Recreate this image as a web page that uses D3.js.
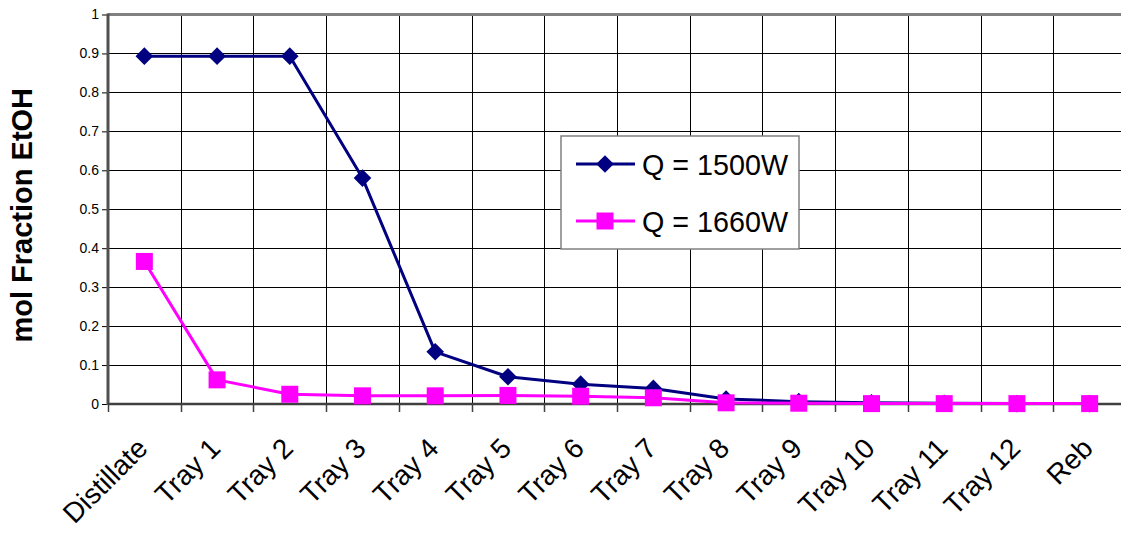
<!DOCTYPE html>
<html>
<head>
<meta charset="utf-8">
<script src="https://cdn.jsdelivr.net/npm/d3@7"></script>
<style>
  html, body { margin: 0; padding: 0; background: #fff; }
  svg { display: block; font-family: Arial, "Liberation Sans", sans-serif; }
</style>
</head>
<body>
<svg id="chart" width="1121" height="540"></svg>
<script>
// Column stages, top to bottom
const categories = ["Distillate", "Tray 1", "Tray 2", "Tray 3", "Tray 4", "Tray 5", "Tray 6",
  "Tray 7", "Tray 8", "Tray 9", "Tray 10", "Tray 11", "Tray 12", "Reb"];

// Ethanol mole fraction on each stage at two reboiler duties
const q1500 = [0.893, 0.893, 0.893, 0.580, 0.134, 0.070, 0.051, 0.040, 0.013, 0.006, 0.003, 0.002, 0.001, 0.001];
const q1660 = [0.366, 0.062, 0.025, 0.021, 0.021, 0.022, 0.020, 0.016, 0.003, 0.002, 0.001, 0.001, 0.001, 0.001];

const seriesNames = ["Q = 1500W", "Q = 1660W"];
const yTicks = [0, 0.1, 0.2, 0.3, 0.4, 0.5, 0.6, 0.7, 0.8, 0.9, 1];
const yTitle = "mol Fraction EtOH";

const svg = d3.select("#chart");
const plot = { left: 108, right: 1126, top: 14.5, bottom: 404 };

const x = d3.scaleBand().domain(categories).range([plot.left, plot.right]).padding(0);
const y = d3.scaleLinear().domain([0, 1]).range([plot.bottom, plot.top]);

// Horizontal grid
svg.append("g").selectAll("line").data(yTicks.filter(d => d > 0 && d < 1)).join("line")
  .attr("x1", plot.left).attr("x2", plot.right)
  .attr("y1", d => Math.round(y(d)) + 0.5).attr("y2", d => Math.round(y(d)) + 0.5)
  .attr("stroke", "#000").attr("stroke-width", 1);

// Vertical grid at stage boundaries
svg.append("g").selectAll("line").data(categories.slice(1)).join("line")
  .attr("x1", d => Math.round(x(d)) + 0.5).attr("x2", d => Math.round(x(d)) + 0.5)
  .attr("y1", plot.top).attr("y2", plot.bottom)
  .attr("stroke", "#000").attr("stroke-width", 1);

// Plot frame (top edge)
svg.append("line")
  .attr("x1", plot.left).attr("x2", plot.right)
  .attr("y1", plot.top).attr("y2", plot.top)
  .attr("stroke", "#808080").attr("stroke-width", 3);

// Y axis
const yAxis = d3.axisLeft(y).tickValues(yTicks).tickSize(6).tickPadding(3)
  .tickFormat(d => d3.format("~g")(d));
const gy = svg.append("g").attr("transform", `translate(${plot.left},0)`).call(yAxis);
gy.select(".domain").remove();
gy.selectAll(".tick line").attr("stroke", "#000");
gy.selectAll(".tick text").attr("font-size", 14).attr("fill", "#000")
  .attr("font-family", "Arial, 'Liberation Sans', sans-serif");
svg.append("line")
  .attr("x1", plot.left).attr("x2", plot.left)
  .attr("y1", plot.top - 1).attr("y2", plot.bottom + 1)
  .attr("stroke", "#505050").attr("stroke-width", 3);

// X axis: ticks at stage boundaries, labels centred on stages
const boundaries = categories.map(c => x(c)).concat([plot.right]);
svg.append("g").selectAll("line").data(boundaries).join("line")
  .attr("x1", d => Math.round(d) + 0.5).attr("x2", d => Math.round(d) + 0.5)
  .attr("y1", plot.bottom).attr("y2", plot.bottom + 8)
  .attr("stroke", "#404040").attr("stroke-width", 1.5);
svg.append("line")
  .attr("x1", plot.left).attr("x2", plot.right)
  .attr("y1", plot.bottom).attr("y2", plot.bottom)
  .attr("stroke", "#404040").attr("stroke-width", 2.5);

svg.append("g").selectAll("text").data(categories).join("text")
  .attr("transform", d => `translate(${x(d) + x.bandwidth() / 2 + 5},${plot.bottom + 46}) rotate(-45)`)
  .attr("text-anchor", "end")
  .attr("font-size", 28)
  .attr("fill", "#000")
  .text(d => d);

// Y axis title
svg.append("text")
  .attr("transform", `translate(32,${(plot.top + plot.bottom) / 2 + 6}) rotate(-90)`)
  .attr("text-anchor", "middle")
  .attr("font-size", 29).attr("font-weight", "bold").attr("fill", "#000")
  .text(yTitle);

// Series
const cx = d => x(d) + x.bandwidth() / 2;
const series = [
  { name: seriesNames[0], values: q1500, color: "#000080", symbol: d3.symbolSquare, size: 155, rotate: 45 },
  { name: seriesNames[1], values: q1660, color: "#FF00FF", symbol: d3.symbolSquare, size: 289, rotate: 0 }
];
const line = d3.line().x(d => cx(d.c)).y(d => y(d.v));

series.forEach(s => {
  const pts = categories.map((c, i) => ({ c, v: s.values[i] }));
  svg.append("path").datum(pts)
    .attr("d", line).attr("fill", "none")
    .attr("stroke", s.color).attr("stroke-width", 3).attr("stroke-linejoin", "round");
  svg.append("g").selectAll("path").data(pts).join("path")
    .attr("transform", d => `translate(${cx(d.c)},${y(d.v)}) rotate(${s.rotate})`)
    .attr("d", d3.symbol().type(s.symbol).size(s.size))
    .attr("fill", s.color);
});

// Legend
const legend = svg.append("g").attr("transform", "translate(561,136)");
legend.append("rect")
  .attr("x", 0).attr("y", 0).attr("width", 238).attr("height", 113)
  .attr("fill", "#fff").attr("stroke", "#808080").attr("stroke-width", 1.5);
series.forEach((s, i) => {
  const ly = 28 + i * 57;
  legend.append("line")
    .attr("x1", 15).attr("x2", 74).attr("y1", ly).attr("y2", ly)
    .attr("stroke", s.color).attr("stroke-width", 3);
  legend.append("path")
    .attr("transform", `translate(44,${ly}) rotate(${s.rotate})`)
    .attr("d", d3.symbol().type(s.symbol).size(s.size))
    .attr("fill", s.color);
  legend.append("text")
    .attr("x", 81).attr("y", ly + 11)
    .attr("font-size", 30).attr("fill", "#000")
    .attr("textLength", 146).attr("lengthAdjust", "spacingAndGlyphs")
    .text(s.name);
});
</script>
</body>
</html>
